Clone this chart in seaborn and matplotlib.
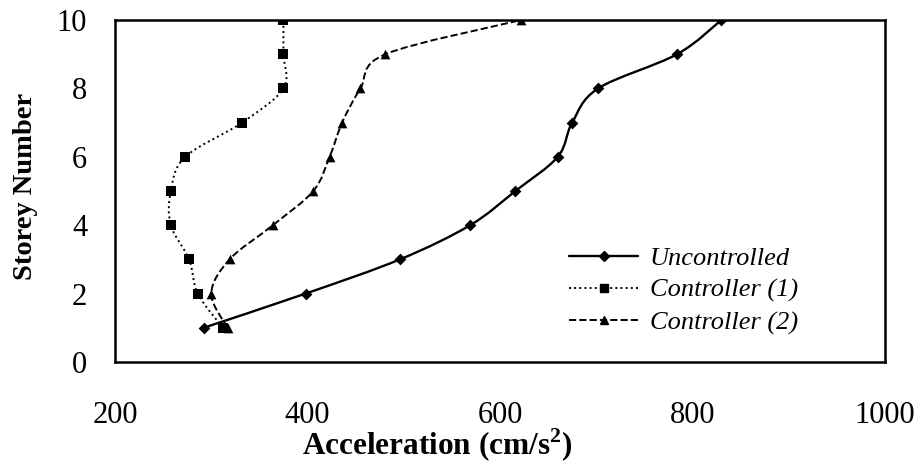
import matplotlib
matplotlib.use("Agg")

import matplotlib.pyplot as plt
from matplotlib.path import Path
from matplotlib.patches import PathPatch
from matplotlib.lines import Line2D
import seaborn as sns
import pandas as pd

storeys = [1, 2, 3, 4, 5, 6, 7, 8, 9, 10]
uncontrolled = [292, 398, 496, 569, 616, 660, 675, 702, 784, 830]
controller_1 = [312, 286, 277, 258, 258, 273, 332, 375, 375, 375]
controller_2 = [317, 300, 319, 364, 406, 423, 436, 455, 481, 622]

series_names = ["Uncontrolled", "Controller (1)", "Controller (2)"]
series_values = [uncontrolled, controller_1, controller_2]
line_styles = ["-", ":", "--"]
marker_styles = ["D", "s", "^"]
marker_sizes = [6, 7, 7]

df = pd.DataFrame({
    "acc": uncontrolled + controller_1 + controller_2,
    "storey": storeys * 3,
    "series": [n for n in series_names for _ in storeys],
})


def smooth_path(xs, ys):
    # excel style smoothed line: cubic bezier through the points
    pts = list(zip(xs, ys))
    n = len(pts)
    verts = [pts[0]]
    codes = [Path.MOVETO]
    for i in range(n - 1):
        p0 = pts[i - 1] if i > 0 else pts[i]
        p1 = pts[i]
        p2 = pts[i + 1]
        p3 = pts[i + 2] if i + 2 < n else pts[i + 1]
        c1 = (p1[0] + (p2[0] - p0[0]) / 6, p1[1] + (p2[1] - p0[1]) / 6)
        c2 = (p2[0] - (p3[0] - p1[0]) / 6, p2[1] - (p3[1] - p1[1]) / 6)
        verts += [c1, c2, p2]
        codes += [Path.CURVE4] * 3
    return Path(verts, codes)


sns.set_theme(style="white")
plt.rcParams["font.family"] = ["Liberation Serif", "DejaVu Serif"]
plt.rcParams["mathtext.fontset"] = "custom"
plt.rcParams["mathtext.rm"] = "Liberation Serif"
plt.rcParams["mathtext.bf"] = "Liberation Serif:bold"
for key in ["text.color", "axes.labelcolor", "xtick.color", "ytick.color"]:
    plt.rcParams[key] = "black"

fig = plt.figure(figsize=(9.23, 4.65), dpi=100)
ax = fig.add_axes([115 / 923, 1 - 362 / 465, 770 / 923, 342 / 465])

lws = [1.7, 1.4, 1.4]
for vals, ls, lw in zip(series_values, line_styles, lws):
    ax.add_patch(PathPatch(smooth_path(vals, storeys), fill=False,
                           edgecolor="black", lw=lw, ls=ls, zorder=2))

for name, mk, ms in zip(series_names, marker_styles, marker_sizes):
    sub = df[df["series"] == name]
    sns.scatterplot(data=sub, x="acc", y="storey", marker=mk, color="black",
                    s=ms ** 2, edgecolor="black", linewidth=0, ax=ax, zorder=3)

ax.set_xlim(200, 1000)
ax.set_ylim(0, 10)
ax.set_xticks([200, 400, 600, 800, 1000])
ax.set_yticks([0, 2, 4, 6, 8, 10])
ax.tick_params(axis="both", length=0, labelsize=22, colors="black")
ax.tick_params(axis="x", pad=28)
ax.tick_params(axis="y", pad=20)
for sp in ax.spines.values():
    sp.set_color("black")
    sp.set_linewidth(1.8)

ax.set_xlabel(r"Acceleration (cm/s$^{\mathbf{2}}$)", fontsize=22.5,
              fontweight="bold", labelpad=0)
ax.xaxis.set_label_coords(0.418, -0.245)
ax.xaxis.label.set_va("center")
ax.set_ylabel("Storey Number", fontsize=20.5, fontweight="bold")
ax.yaxis.set_label_coords(-0.1, 0.513)

handles = [Line2D([], [], color="black", ls=ls, lw=lw, marker=mk, markersize=ms - 1)
           for ls, lw, mk, ms in zip(line_styles, lws, marker_styles, marker_sizes)]
leg = ax.legend(handles, series_names, loc="upper left", bbox_to_anchor=(0.59, 0.338),
                frameon=False, borderpad=0, borderaxespad=0, handlelength=2.6,
                handletextpad=0.45, labelspacing=0.32, prop={"size": 19, "style": "italic"})

fig.savefig("out.png", dpi=100)
plt.close(fig)
